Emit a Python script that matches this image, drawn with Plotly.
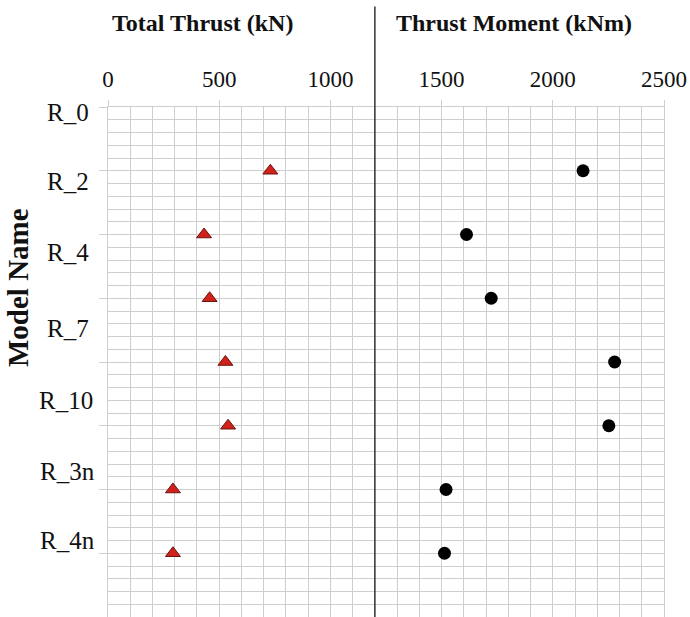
import plotly.graph_objects as go

# ---- data ----
models = ["R_0", "R_2", "R_4", "R_7", "R_10", "R_3n", "R_4n"]
point_rows = [1, 2, 3, 4, 5, 6, 7]          # grid row of each plotted point
total_thrust = [730, 432, 457, 528, 540, 292, 292]        # kN
thrust_moment = [2136, 1612, 1723, 2278, 2252, 1520, 1513]  # kNm
x_ticks = [0, 500, 1000, 1500, 2000, 2500]
row_ticks = [0, 1, 2, 3, 4, 5, 6, 7, 8]

# layout constants (label placement along the category axis)
label_rows = [0.09, 1.17, 2.29, 3.47, 4.6, 5.72, 6.8]
label_right = [91, 91, 91, 91, 95, 97, 97]   # px, right edge of each label
divider = 1200

FONT = "Liberation Serif"
GRID = "#cecece"
L, T, W, H = 108, 107, 556, 510

fig = go.Figure()
fig.add_trace(go.Scatter(
    x=total_thrust, y=point_rows, mode="markers", name="Total Thrust",
    marker=dict(symbol="triangle-up", size=13, color="#d0221b",
                line=dict(color="#6a1510", width=1)),
    showlegend=False))
fig.add_trace(go.Scatter(
    x=thrust_moment, y=point_rows, mode="markers", name="Thrust Moment",
    marker=dict(symbol="circle", size=13, color="#000000"),
    showlegend=False))

fig.update_layout(
    width=690, height=617,
    margin=dict(l=L, r=26, t=T, b=0),
    paper_bgcolor="white", plot_bgcolor="white",
    font=dict(family=FONT, size=23, color="#111111"),
    xaxis=dict(
        side="top", range=[0, 2500], tickvals=x_ticks,
        ticks="outside", ticklen=6, tickcolor=GRID,
        showgrid=True, gridcolor=GRID, gridwidth=1, zeroline=False,
        showline=True, linecolor=GRID, mirror=True,
        minor=dict(dtick=100, showgrid=True, gridcolor=GRID, gridwidth=1),
        tickfont=dict(size=23), ticklabelstandoff=4,
    ),
    yaxis=dict(
        range=[8, 0], tickvals=row_ticks, ticktext=[""] * len(row_ticks),
        ticks="outside", ticklen=8, tickcolor=GRID,
        showgrid=True, gridcolor=GRID, gridwidth=1, zeroline=False,
        showline=True, linecolor=GRID, mirror=True,
        minor=dict(dtick=0.2, tick0=0, showgrid=True, gridcolor=GRID, gridwidth=1),
    ),
)

for name, row, rx in zip(models, label_rows, label_right):
    fig.add_annotation(text=name, xref="paper", yref="y",
                       x=(rx - L) / W, y=row, showarrow=False,
                       xanchor="right", yanchor="middle",
                       font=dict(size=25))

fig.add_shape(type="line", xref="x", yref="paper",
              x0=divider, x1=divider, y0=0, y1=1.197,
              line=dict(color="#333333", width=1.5))

fig.add_annotation(text="<b>Total Thrust (kN)</b>", xref="paper", yref="paper",
                   x=(202 - L) / W, y=1 + (T - 23) / H, showarrow=False,
                   xanchor="center", yanchor="middle", font=dict(size=24))
fig.add_annotation(text="<b>Thrust Moment (kNm)</b>", xref="paper", yref="paper",
                   x=(514 - L) / W, y=1 + (T - 23) / H, showarrow=False,
                   xanchor="center", yanchor="middle", font=dict(size=24))
fig.add_annotation(text="<b>Model Name</b>", xref="paper", yref="paper",
                   x=(18 - L) / W, y=1 - (288 - T) / H, showarrow=False,
                   textangle=-90, xanchor="center", yanchor="middle",
                   font=dict(size=29))

fig.write_html("out.html")
